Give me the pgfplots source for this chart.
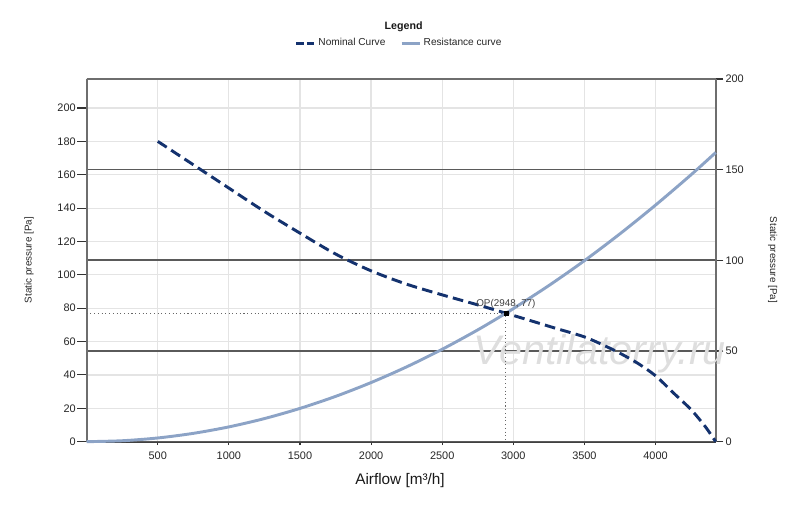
\documentclass[border=0pt]{standalone}
\usepackage{pgfplots}
\pgfplotsset{compat=1.18}
\usepackage{fontspec}
\setmainfont{Liberation Sans}
\definecolor{nom}{RGB}{20,50,110}
\definecolor{res}{RGB}{140,163,198}
\definecolor{lgrid}{RGB}{228,228,228}
\definecolor{dgrid}{RGB}{90,90,90}
\definecolor{spine}{RGB}{110,110,110}
\begin{document}
\begin{tikzpicture}
\useasboundingbox (0pt,0pt) rectangle (600pt,380.25pt);
\pgfplotsset{
  base/.style={
    scale only axis, width=471.75pt, height=272pt,
    at={(65pt,49pt)}, anchor=south west,
    xmin=0, xmax=4423,
    tick label style={font=\fontsize{8.2}{10}\selectfont, text=black!85},
    /pgf/number format/assume math mode=true,
    /pgf/number format/1000 sep={},
    tick align=outside,
    tick style={draw=black!80, line width=0.8pt},
  }
}
% light grid, x ticks, bottom line
\begin{axis}[base, ymin=0, ymax=217.4,
  axis x line*=bottom, axis y line*=left,
  x axis line style={draw=black!75, line width=1.3pt},
  y axis line style={draw=none},
  xtick={500,1000,...,4000}, ytick={0,20,...,200},
  yticklabels={}, y tick style={draw=none},
  xtick pos=bottom, ytick pos=left,
  xmajorgrids, ymajorgrids,
  major grid style={draw=lgrid, line width=0.9pt},
  major tick length=2.5pt,
  xticklabel style={inner sep=0pt, yshift=-5pt},
]
\end{axis}
% right axis, dark grid
\begin{axis}[base, ymin=0, ymax=200,
  axis x line*=top, axis y line*=right,
  x axis line style={draw=spine, line width=1.2pt},
  y axis line style={draw=spine, line width=1.6pt},
  xtick=\empty,
  ytick={0,50,...,200}, ytick pos=right,
  ymajorgrids,
  major grid style={draw=dgrid, line width=1.25pt},
  major tick length=5.7pt,
  yticklabel style={inner sep=0pt, xshift=1.5pt},
]
\end{axis}
\node[anchor=base west, inner sep=0pt, font=\fontsize{31}{31}\selectfont\itshape, text=black!13] at (354.75pt,106.5pt) {Ventilatorry.ru};
% left axis with curves
\begin{axis}[base, ymin=0, ymax=217.4,
  hide x axis, axis y line*=left,
  y axis line style={draw=spine, line width=1.6pt},
  ytick={0,20,...,200}, ytick pos=left,
  major tick length=7pt,
  yticklabel style={inner sep=0pt, xshift=-1pt},
  clip=false,
  legend columns=2,
  legend style={at={(axis description cs:0.4973,1.0984)}, anchor=center,
    draw=none, fill=none, font=\fontsize{7.6}{9}\selectfont, text=black!85,
    /tikz/every even column/.append style={column sep=9pt}},
  legend image code/.code={\draw[#1] (0pt,0pt) -- (13.5pt,0pt);},
]
\addplot[black!60, dotted, line width=0.8pt, forget plot] coordinates {(0,77) (2948,77) (2948,0)};
\addplot[nom, line width=2.2pt, dash pattern=on 8pt off 4pt, smooth,
  legend image post style={dash pattern=on 5.5pt off 2.5pt}] coordinates {
(500,180) (750,166) (1000,152) (1250,138) (1500,125) (1750,112.5) (2000,102.4)
(2250,94.4) (2500,88) (2750,82) (2948,77) (3150,71.8) (3300,67.9) (3500,62.8)
(3650,57.2) (3750,53) (3875,47) (4000,39.5) (4125,29.3) (4250,19.2) (4350,9) (4423,0)};
\addlegendentry{Nominal Curve}
\addplot[res, line width=2.2pt, smooth] coordinates {
(0,0) (250,0.554) (500,2.215) (750,4.984) (1000,8.860) (1250,13.84) (1500,19.94)
(1750,27.13) (2000,35.44) (2250,44.85) (2500,55.38) (2750,67.00) (2948,77)
(3000,79.74) (3250,93.58) (3500,108.5) (3750,124.6) (4000,141.8) (4250,160.0) (4423,173.3)};
\addlegendentry{Resistance curve}
\addplot[only marks, mark=square*, mark size=1.4pt, black, forget plot] coordinates {(2948,77)};
\node[anchor=base, inner sep=0pt, yshift=5pt, font=\fontsize{7.4}{9}\selectfont, text=black!75] at (axis cs:2948,77) {OP(2948, 77)};
\end{axis}
\node[font=\bfseries\fontsize{8}{9}\selectfont, text=black!90] at (302.7pt,360.2pt) {Legend};
\node[font=\fontsize{11.5}{13}\selectfont, text=black!90, anchor=base] at (300pt,16.5pt) {Airflow [m³/h]};
\node[font=\fontsize{7.4}{9}\selectfont, text=black!85, rotate=90] at (21.75pt,185.25pt) {Static pressure [Pa]};
\node[font=\fontsize{7.4}{9}\selectfont, text=black!85, rotate=-90] at (579.5pt,185.25pt) {Static pressure [Pa]};
\end{tikzpicture}
\end{document}
